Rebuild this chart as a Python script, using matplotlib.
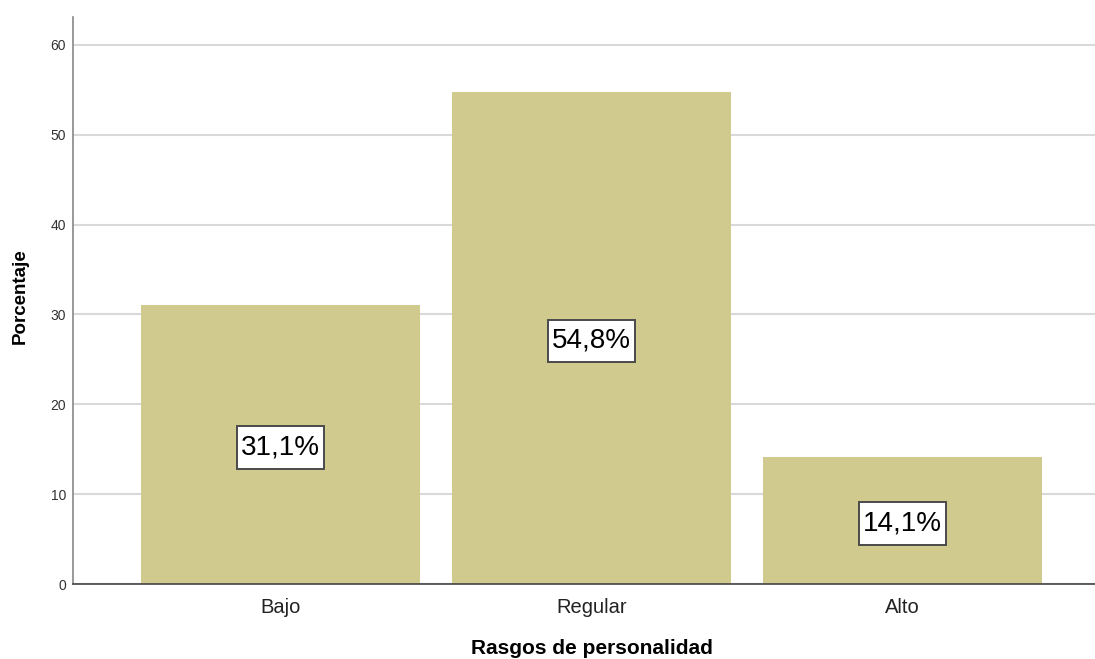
import matplotlib
matplotlib.use("Agg")
import matplotlib.pyplot as plt
from matplotlib.path import Path

categories = ["Bajo", "Regular", "Alto"]
values = [31.1, 54.8, 14.1]
labels = ["31,1%", "54,8%", "14,1%"]
yticks = [0, 10, 20, 30, 40, 50, 60]

plt.rcParams['font.family'] = ['Liberation Sans', 'DejaVu Sans']


def padded_box(x0, y0, width, height, mutation_size, padx=0.2, pady=0.32):
    px = padx * mutation_size
    py = pady * mutation_size
    x0, y0 = x0 - px, y0 - py
    x1, y1 = x0 + width + 2 * px, y0 + height + 2 * py
    return Path([(x0, y0), (x1, y0), (x1, y1), (x0, y1), (x0, y0)],
                closed=True)


fig = plt.figure(figsize=(10.95, 6.59), dpi=100)
ax = fig.add_axes([73/1095, 1-584/659, 1-73/1095, (584-17)/659])

x = list(range(len(categories)))
ax.bar(x, values, width=0.897, color="#D0CA8E", zorder=2)
for xi, v, lab in zip(x, values, labels):
    ax.text(xi, v/2 - 0.35, lab, ha="center", va="center", fontsize=20, color="black", zorder=3,
            bbox=dict(boxstyle=lambda *a, **k: padded_box(*a[:5], padx=0.15, pady=0.3),
                      fc="white", ec="#4a4a4a", lw=1.4))

ax.set_xlim(-0.667, 2.619)
ax.set_ylim(0, 63.1)
ax.set_yticks(yticks)
ax.set_yticklabels([str(t) for t in yticks], fontsize=10, color="#333333")
ax.set_xticks(x)
ax.set_xticklabels(categories, fontsize=14.5, color="#222222")
ax.tick_params(axis="y", length=0, pad=5)
ax.tick_params(axis="x", length=0, pad=10)
ax.yaxis.grid(True, color="#D9D9D9", lw=1.5, zorder=0)
ax.set_axisbelow(True)
for s in ["top", "right"]:
    ax.spines[s].set_visible(False)
ax.spines["left"].set_color("#888888")
ax.spines["left"].set_linewidth(1.2)
ax.spines["bottom"].set_color("#444444")
ax.spines["bottom"].set_linewidth(1.2)

fig.text(592/1095, 1-648/659, "Rasgos de personalidad", ha="center", va="center",
         fontsize=15, fontweight="bold")
fig.text(20/1095, 1-296/659, "Porcentaje", ha="center", va="center", rotation=90,
         fontsize=13.5, fontweight="bold")

fig.savefig("out.png", dpi=100)
